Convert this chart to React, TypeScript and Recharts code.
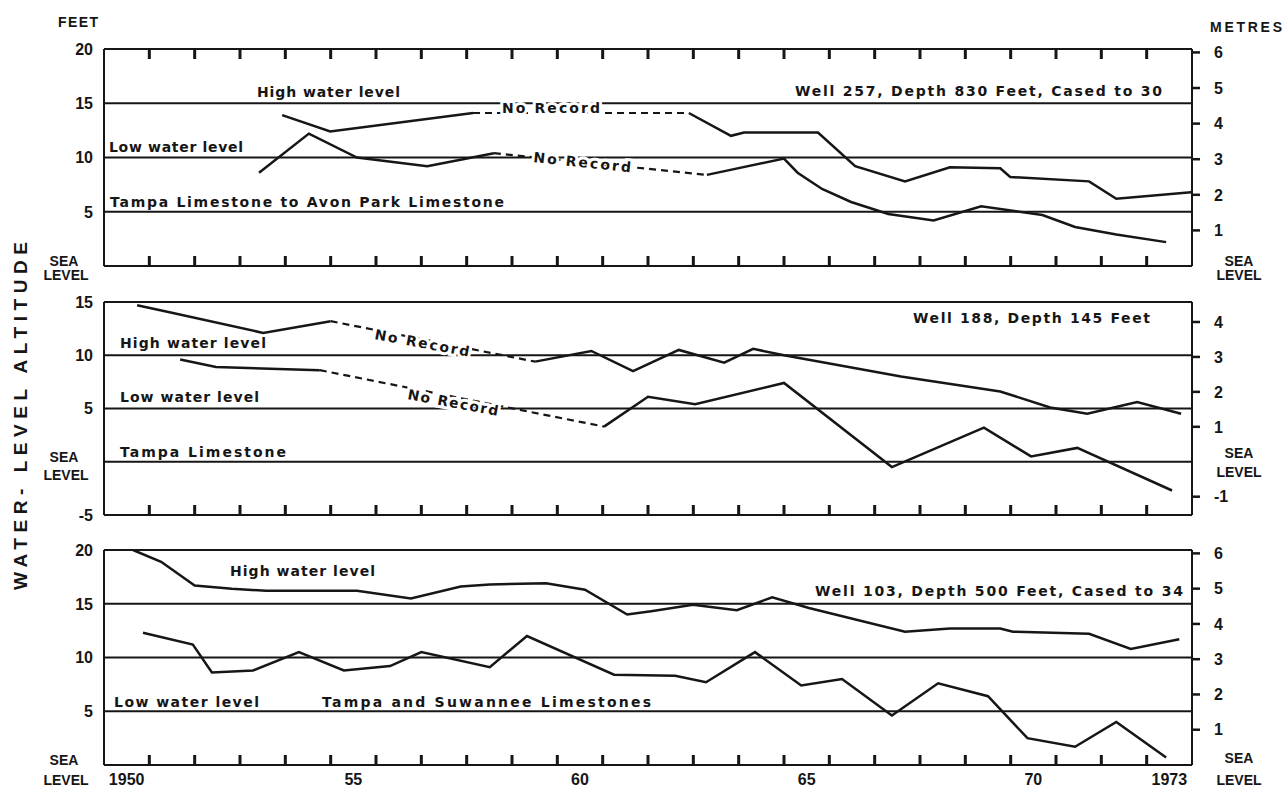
import React from 'react';
import { LineChart, Line, XAxis, YAxis, CartesianGrid } from 'recharts';

const FT_PER_M = 3.2808;
const FONT = '"Liberation Sans", Arial, sans-serif';
const NOTE_FONT = '"DejaVu Sans", Verdana, sans-serif';
const INK = '#161616';
const TICK_PX = 10;
const CHART_W = 1285;
const LEFT_W = 104;
const RIGHT_W = 93;
const YEAR_MIN = 1950;
const YEAR_MAX = 1974;

// ---------- axis categories / tick labels ----------
const yearTicks = [1951, 1952, 1953, 1954, 1955, 1956, 1957, 1958, 1959, 1960, 1961, 1962, 1963, 1964, 1965, 1966, 1967, 1968, 1969, 1970, 1971, 1972, 1973];
const yearLabelPos = [1950.5, 1955.5, 1960.5, 1965.5, 1970.5, 1973.5];
const yearLabelText = ['1950', '55', '60', '65', '70', '1973'];

// ---------- Well 257 (feet) ----------
const w257HighYear = [1953.93, 1954.99, 1958.14, 1962.9, 1963.83, 1964.12, 1965.75, 1966.57, 1967.67, 1968.66, 1969.77, 1969.99, 1971.73, 1972.33, 1973.98];
const w257HighFt = [13.9, 12.4, 14.1, 14.1, 12.0, 12.3, 12.3, 9.2, 7.8, 9.1, 9.0, 8.2, 7.8, 6.2, 6.8];
const w257HighGap = 2;
const w257LowYear = [1953.42, 1954.52, 1955.58, 1957.13, 1958.6, 1963.3, 1965.0, 1965.3, 1965.84, 1966.48, 1967.3, 1968.3, 1969.35, 1970.7, 1971.42, 1972.33, 1973.43];
const w257LowFt = [8.6, 12.2, 10.0, 9.2, 10.4, 8.4, 9.9, 8.6, 7.1, 5.9, 4.8, 4.2, 5.5, 4.7, 3.6, 2.9, 2.2];
const w257LowGap = 4;

// ---------- Well 188 (feet) ----------
const w188HighYear = [1950.73, 1951.37, 1953.51, 1955.0, 1959.51, 1960.75, 1961.67, 1962.68, 1963.68, 1964.32, 1965.0, 1967.58, 1969.77, 1970.87, 1971.69, 1972.79, 1973.76];
const w188HighFt = [14.7, 14.1, 12.1, 13.2, 9.4, 10.4, 8.5, 10.5, 9.3, 10.6, 10.0, 8.0, 6.6, 5.1, 4.5, 5.6, 4.5];
const w188HighGap = 3;
const w188LowYear = [1951.68, 1952.47, 1954.76, 1961.03, 1962.0, 1963.04, 1965.0, 1967.38, 1969.41, 1970.45, 1971.47, 1973.56];
const w188LowFt = [9.6, 8.9, 8.6, 3.3, 6.1, 5.4, 7.4, -0.5, 3.2, 0.5, 1.3, -2.7];
const w188LowGap = 2;

// ---------- Well 103 (feet) ----------
const w103HighYear = [1950.64, 1951.26, 1952.0, 1952.82, 1953.57, 1955.58, 1956.77, 1957.87, 1958.51, 1959.75, 1960.61, 1961.54, 1962.07, 1962.99, 1963.96, 1964.74, 1965.55, 1967.67, 1968.66, 1969.77, 1970.05, 1971.73, 1972.65, 1973.72];
const w103HighFt = [20.0, 18.9, 16.7, 16.4, 16.2, 16.2, 15.5, 16.6, 16.8, 16.9, 16.3, 14.0, 14.3, 14.9, 14.4, 15.6, 14.6, 12.4, 12.7, 12.7, 12.4, 12.2, 10.8, 11.7];
const w103LowYear = [1950.86, 1951.96, 1952.38, 1953.29, 1954.3, 1955.29, 1956.31, 1957.0, 1958.51, 1959.33, 1961.25, 1962.6, 1963.28, 1964.36, 1965.38, 1966.28, 1967.38, 1968.4, 1969.5, 1970.37, 1971.42, 1972.33, 1973.43];
const w103LowFt = [12.3, 11.2, 8.6, 8.8, 10.5, 8.8, 9.2, 10.5, 9.1, 12.0, 8.4, 8.3, 7.7, 10.5, 7.4, 8.0, 4.6, 7.6, 6.4, 2.5, 1.7, 4.0, 0.7];

// ---------- axis ranges ----------
const p1FtTicks = [0, 5, 10, 15, 20];
const p1MTicks = [0, 1, 2, 3, 4, 5, 6];
const p2FtTicks = [-5, 0, 5, 10, 15];
const p2MTicks = [-1, 0, 1, 2, 3, 4];
const p3FtTicks = [0, 5, 10, 15, 20];
const p3MTicks = [0, 1, 2, 3, 4, 5, 6];

type Pt = { x: number; y: number | null };
type Series = { solid: Pt[]; dashed: Pt[] };

function build(years: number[], feet: number[], gapAfter: number | null): Series {
  const pts: Pt[] = years.map((x, i) => ({ x, y: feet[i] }));
  if (gapAfter === null) return { solid: pts, dashed: [] };
  const a = pts[gapAfter];
  const b = pts[gapAfter + 1];
  const solid = [...pts.slice(0, gapAfter + 1), { x: (a.x + b.x) / 2, y: null }, ...pts.slice(gapAfter + 1)];
  return { solid, dashed: [a, b] };
}

const textStyle = { fontFamily: FONT, fontWeight: 700, fill: INK } as const;

const makeLeftTick = (seaGap: number) => (props: any) => {
  const { x, y, payload } = props;
  if (payload.value === 0) {
    return (
      <g>
        <text y={y} textAnchor="middle" fontSize={14} {...textStyle}>
          <tspan x={x - 40} dy={0}>SEA</tspan>
          <tspan x={x - 38} dy={seaGap}>LEVEL</tspan>
        </text>
      </g>
    );
  }
  return (
    <g>
      <text x={x - 11} y={y} dy="0.36em" textAnchor="end" fontSize={16} {...textStyle}>{payload.value}</text>
    </g>
  );
};

const makeRightTick = (seaUp: number, seaGap: number) => (props: any) => {
  const { x, y, payload } = props;
  if (payload.value === 0) {
    return (
      <g>
        <text y={y - seaUp} textAnchor="middle" fontSize={14} {...textStyle}>
          <tspan x={x + 47} dy={0}>SEA</tspan>
          <tspan x={x + 47} dy={seaGap + seaUp}>LEVEL</tspan>
        </text>
      </g>
    );
  }
  return (
    <g>
      <text x={x + 22} y={y} dy="0.36em" textAnchor="start" fontSize={16} {...textStyle}>{payload.value}</text>
    </g>
  );
};

const YearLabelTick = (props: any) => {
  const { x, y, payload } = props;
  const i = yearLabelPos.indexOf(Number(payload.value));
  return (
    <g>
      <text x={x} y={y + 20} textAnchor="middle" fontSize={16} {...textStyle}>{i >= 0 ? yearLabelText[i] : ''}</text>
    </g>
  );
};

const EmptyTick = () => <g />;

type PanelCfg = {
  top: number;
  height: number;
  marginTop: number;
  marginBottom: number;
  ftTicks: number[];
  mTicks: number[];
  topTicks: boolean;
  labels: boolean;
  leftSeaGap: number;
  rightSeaUp: number;
  rightSeaGap: number;
};

const bottomH = (p: PanelCfg) => (p.labels ? 26 : 1);
const plotTop = (p: PanelCfg) => p.top + p.marginTop;
const plotBottom = (p: PanelCfg) => p.top + p.height - p.marginBottom - bottomH(p);

function Panel({ p, high, low }: { p: PanelCfg; high: Series; low: Series }) {
  const ftMin = p.ftTicks[0];
  const ftMax = p.ftTicks[p.ftTicks.length - 1];
  const ftDomain: [number, number] = [ftMin, ftMax];
  const mDomain: [number, number] = [ftMin / FT_PER_M, ftMax / FT_PER_M];
  const lineProps = {
    xAxisId: 'b',
    yAxisId: 'ft',
    dataKey: 'y',
    type: 'linear' as const,
    stroke: INK,
    strokeWidth: 2.5,
    dot: false,
    activeDot: false,
    isAnimationActive: false,
    connectNulls: false,
  };
  return (
    <div style={{ position: 'absolute', left: 0, top: p.top }}>
      <LineChart
        width={CHART_W}
        height={p.height}
        margin={{ top: p.marginTop, right: 0, bottom: p.marginBottom, left: 0 }}
      >
        <CartesianGrid xAxisId="b" yAxisId="ft" vertical={false} stroke={INK} strokeWidth={2} />
        <XAxis
          xAxisId="b"
          dataKey="x"
          type="number"
          orientation="bottom"
          domain={[YEAR_MIN, YEAR_MAX]}
          allowDataOverflow
          ticks={p.labels ? yearLabelPos : yearTicks}
          interval={0}
          tickSize={0}
          tickMargin={0}
          height={bottomH(p)}
          axisLine={{ stroke: INK, strokeWidth: 2 }}
          tickLine={false}
          tick={p.labels ? YearLabelTick : EmptyTick}
        />
        <YAxis
          yAxisId="ft"
          orientation="left"
          type="number"
          domain={ftDomain}
          allowDataOverflow
          ticks={p.ftTicks}
          interval={0}
          width={LEFT_W}
          tickSize={0}
          tickMargin={0}
          axisLine={{ stroke: INK, strokeWidth: 2 }}
          tickLine={false}
          tick={makeLeftTick(p.leftSeaGap)}
        />
        <YAxis
          yAxisId="m"
          orientation="right"
          type="number"
          domain={mDomain}
          allowDataOverflow
          ticks={p.mTicks}
          interval={0}
          width={RIGHT_W}
          tickSize={0}
          tickMargin={0}
          axisLine={{ stroke: INK, strokeWidth: 2 }}
          tickLine={false}
          tick={makeRightTick(p.rightSeaUp, p.rightSeaGap)}
        />
        <Line {...lineProps} data={high.solid} />
        <Line {...lineProps} data={low.solid} />
        {high.dashed.length > 0 && <Line {...lineProps} data={high.dashed} strokeDasharray="7 5" strokeWidth={2.2} />}
        {low.dashed.length > 0 && <Line {...lineProps} data={low.dashed} strokeDasharray="7 5" strokeWidth={2.2} />}
      </LineChart>
    </div>
  );
}

// frame furniture (year tick marks and metre dashes) for one panel
function PanelFurniture({ p }: { p: PanelCfg }) {
  const left = LEFT_W;
  const right = CHART_W - RIGHT_W;
  const top = plotTop(p);
  const bottom = plotBottom(p);
  const ftMin = p.ftTicks[0];
  const ftMax = p.ftTicks[p.ftTicks.length - 1];
  const xOf = (yr: number) => left + ((yr - YEAR_MIN) / (YEAR_MAX - YEAR_MIN)) * (right - left);
  const yOfFt = (ft: number) => bottom - ((ft - ftMin) / (ftMax - ftMin)) * (bottom - top);
  return (
    <g>
      {yearTicks.map((yr) => (
        <rect key={`b${yr}`} x={xOf(yr) - 1.5} y={bottom - TICK_PX} width={3} height={TICK_PX} fill={INK} />
      ))}
      {p.topTicks &&
        yearTicks.map((yr) => (
          <rect key={`t${yr}`} x={xOf(yr) - 1.5} y={top} width={3} height={TICK_PX} fill={INK} />
        ))}
      {p.mTicks
        .filter((m) => m !== 0)
        .map((m) => (
          <rect key={`m${m}`} x={right} y={yOfFt(m * FT_PER_M) - 1.25} width={8} height={2.5} fill={INK} />
        ))}
    </g>
  );
}

const panels: PanelCfg[] = [
  { top: 0, height: 300, marginTop: 49, marginBottom: 33, ftTicks: p1FtTicks, mTicks: p1MTicks, topTicks: true, labels: false, leftSeaGap: 14, rightSeaUp: 0, rightSeaGap: 14 },
  { top: 280, height: 260, marginTop: 22, marginBottom: 24, ftTicks: p2FtTicks, mTicks: p2MTicks, topTicks: false, labels: false, leftSeaGap: 18, rightSeaUp: 4, rightSeaGap: 15 },
  { top: 530, height: 261, marginTop: 20, marginBottom: 0, ftTicks: p3FtTicks, mTicks: p3MTicks, topTicks: false, labels: true, leftSeaGap: 20, rightSeaUp: 2, rightSeaGap: 20 },
];

type Note = { t: string; x: number; y: number; len: number; size?: number; rot?: number; halo?: boolean; font?: string };

const notes: Note[] = [
  { t: 'FEET', x: 58, y: 27, len: 40, size: 14, font: FONT },
  { t: 'METRES', x: 1210, y: 32, len: 72, size: 14, font: FONT },
  { t: 'High water level', x: 257, y: 97, len: 143 },
  { t: 'Low water level', x: 109, y: 152, len: 134 },
  { t: 'Tampa Limestone to Avon Park Limestone', x: 110, y: 207, len: 394 },
  { t: 'No Record', x: 502, y: 113, len: 98, halo: true },
  { t: 'No Record', x: 533, y: 162, len: 98, rot: 6, halo: true },
  { t: 'Well 257, Depth 830 Feet, Cased to 30', x: 795, y: 96, len: 367 },
  { t: 'High water level', x: 120, y: 348, len: 146 },
  { t: 'Low water level', x: 120, y: 402, len: 139 },
  { t: 'Tampa Limestone', x: 120, y: 457, len: 166 },
  { t: 'No Record', x: 374, y: 339, len: 96, rot: 10.5, halo: true },
  { t: 'No Record', x: 407, y: 399, len: 92, rot: 10.5, halo: true },
  { t: 'Well 188, Depth 145 Feet', x: 913, y: 323, len: 237 },
  { t: 'High water level', x: 230, y: 576, len: 145 },
  { t: 'Well 103, Depth 500 Feet, Cased to 34', x: 815, y: 596, len: 368 },
  { t: 'Low water level', x: 114, y: 707, len: 145 },
  { t: 'Tampa and Suwannee Limestones', x: 322, y: 707, len: 329 },
];

export default function App() {
  const series: [Series, Series][] = [
    [build(w257HighYear, w257HighFt, w257HighGap), build(w257LowYear, w257LowFt, w257LowGap)],
    [build(w188HighYear, w188HighFt, w188HighGap), build(w188LowYear, w188LowFt, w188LowGap)],
    [build(w103HighYear, w103HighFt, null), build(w103LowYear, w103LowFt, null)],
  ];
  return (
    <div style={{ position: 'absolute', left: 0, top: 0, width: CHART_W, height: 791, background: '#fff', overflow: 'hidden' }}>
      {panels.map((p, i) => (
        <Panel key={i} p={p} high={series[i][0]} low={series[i][1]} />
      ))}
      <svg width={CHART_W} height={791} style={{ position: 'absolute', left: 0, top: 0, pointerEvents: 'none' }}>
        {panels.map((p, i) => (
          <PanelFurniture key={i} p={p} />
        ))}
        <text
          transform="translate(27 416) rotate(-90)"
          textAnchor="middle"
          fontSize={19}
          textLength={348}
          lengthAdjust="spacing"
          {...textStyle}
        >
          WATER- LEVEL ALTITUDE
        </text>
        {notes.map((n, i) => (
          <text
            key={i}
            x={n.x}
            y={n.y}
            fontSize={n.size ?? 14}
            textLength={n.len}
            lengthAdjust="spacing"
            transform={n.rot ? `rotate(${n.rot} ${n.x} ${n.y})` : undefined}
            stroke={n.halo ? '#fff' : 'none'}
            strokeWidth={n.halo ? 6 : 0}
            paintOrder="stroke"
            fontFamily={n.font ?? NOTE_FONT}
            fontWeight={700}
            fill={INK}
          >
            {n.t}
          </text>
        ))}
      </svg>
    </div>
  );
}
